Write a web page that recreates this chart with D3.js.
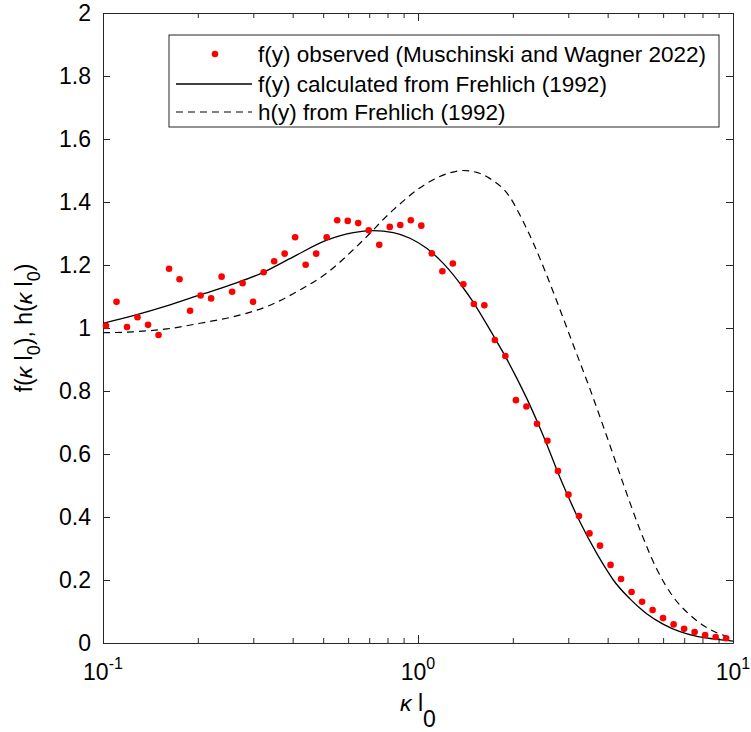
<!DOCTYPE html>
<html>
<head>
<meta charset="utf-8">
<script src="https://cdn.jsdelivr.net/npm/d3@7"></script>
<style>
  body { margin: 0; background: #fff; }
  svg { display: block; }
  text { font-family: "Liberation Sans", Arial, Helvetica, sans-serif; fill: #000; }
</style>
</head>
<body>
<svg id="chart" width="751" height="732"></svg>
<script>
// Observed normalized spectrum f(y) (Muschinski and Wagner 2022)
const obsKappa = [0.1022, 0.1104, 0.1192, 0.1287, 0.1390, 0.1501, 0.1621, 0.1750, 0.1890, 0.2041,
  0.2204, 0.2380, 0.2570, 0.2775, 0.2996, 0.3236, 0.3494, 0.3773, 0.4074, 0.4399,
  0.4751, 0.5130, 0.5540, 0.5983, 0.6460, 0.6976, 0.7533, 0.8135, 0.8784, 0.9488,
  1.0245, 1.106, 1.195, 1.290, 1.393, 1.504, 1.624, 1.754, 1.894, 2.046,
  2.209, 2.386, 2.576, 2.782, 3.004, 3.244, 3.503, 3.783, 4.086, 4.412,
  4.764, 5.145, 5.556, 5.998, 6.478, 6.995, 7.554, 8.157, 8.808, 9.511];
const obsF = [1.007, 1.083, 1.003, 1.034, 1.010, 0.978, 1.188, 1.155, 1.055, 1.103,
  1.094, 1.163, 1.115, 1.142, 1.083, 1.177, 1.212, 1.236, 1.288, 1.201,
  1.236, 1.288, 1.342, 1.340, 1.333, 1.310, 1.264, 1.321, 1.327, 1.342,
  1.325, 1.237, 1.180, 1.205, 1.139, 1.076, 1.072, 0.962, 0.911, 0.771,
  0.751, 0.696, 0.642, 0.546, 0.471, 0.403, 0.348, 0.309, 0.248, 0.203,
  0.162, 0.131, 0.105, 0.079, 0.059, 0.045, 0.035, 0.025, 0.019, 0.015];

// f(y) calculated from Frehlich (1992)
const fKappa = [0.100, 0.1248, 0.1593, 0.2032, 0.2593, 0.3150, 0.4018, 0.5131, 0.6231, 0.7212,
  0.8347, 0.9432, 1.0656, 1.203, 1.393, 1.481, 1.632, 1.765, 1.903, 2.058,
  2.218, 2.409, 2.606, 2.810, 3.112, 3.268, 3.701, 3.972, 4.169, 4.710,
  5.069, 5.333, 5.995, 6.787, 7.686, 8.660, 10.0];
const fCalc = [1.015, 1.039, 1.070, 1.105, 1.140, 1.172, 1.226, 1.279, 1.303, 1.309,
  1.303, 1.285, 1.253, 1.205, 1.127, 1.089, 1.021, 0.963, 0.906, 0.841,
  0.775, 0.695, 0.613, 0.530, 0.429, 0.384, 0.283, 0.232, 0.200, 0.140,
  0.110, 0.092, 0.060, 0.036, 0.021, 0.013, 0.006];

// h(y) from Frehlich (1992)
const hKappa = [0.100, 0.1248, 0.1593, 0.2032, 0.2593, 0.3309, 0.4220, 0.5131, 0.6545, 0.8347,
  1.0656, 1.264, 1.393, 1.536, 1.689, 1.953, 2.123, 2.323, 2.531, 2.756,
  3.112, 3.516, 3.972, 4.485, 5.069, 5.726, 6.464, 7.302, 8.253, 10.0];
const hCalc = [0.985, 0.988, 0.997, 1.015, 1.036, 1.068, 1.121, 1.174, 1.269, 1.375,
  1.459, 1.493, 1.500, 1.494, 1.475, 1.417, 1.352, 1.270, 1.181, 1.086,
  0.946, 0.806, 0.657, 0.505, 0.359, 0.235, 0.146, 0.089, 0.049, 0.015];

const xTickExponents = [-1, 0, 1];
const yTickValues = [0, 0.2, 0.4, 0.6, 0.8, 1, 1.2, 1.4, 1.6, 1.8, 2];
const legendLabels = [
  "f(y) observed (Muschinski and Wagner 2022)",
  "f(y) calculated from Frehlich (1992)",
  "h(y) from Frehlich (1992)"
];

const axisColor = "#262626";
const box = { left: 103, right: 733, top: 13, bottom: 643 };

const svg = d3.select("#chart");
const x = d3.scaleLog().domain([0.1, 10]).range([box.left, box.right]);
const y = d3.scaleLinear().domain([0, 2]).range([box.bottom, box.top]);

// minor log ticks (2..9 in each decade)
const minorTicks = [];
[0.1, 1].forEach(d => { for (let i = 2; i <= 9; i++) minorTicks.push(d * i); });
const majorTicks = xTickExponents.map(e => Math.pow(10, e));

function styleAxis(g) {
  g.select(".domain").attr("stroke", axisColor).attr("stroke-width", 1);
  g.selectAll(".tick line").attr("stroke", axisColor).attr("stroke-width", 1);
  g.selectAll(".tick text").remove();
}

// inward ticks on all four sides
const axes = svg.append("g");
axes.append("g").attr("transform", `translate(0,${box.bottom})`)
  .call(d3.axisBottom(x).tickValues(majorTicks).tickSize(-8).tickSizeOuter(0)).call(styleAxis);
axes.append("g").attr("transform", `translate(0,${box.bottom})`)
  .call(d3.axisBottom(x).tickValues(minorTicks).tickSize(-5).tickSizeOuter(0)).call(styleAxis);
axes.append("g").attr("transform", `translate(0,${box.top})`)
  .call(d3.axisTop(x).tickValues(majorTicks).tickSize(-8).tickSizeOuter(0)).call(styleAxis);
axes.append("g").attr("transform", `translate(0,${box.top})`)
  .call(d3.axisTop(x).tickValues(minorTicks).tickSize(-5).tickSizeOuter(0)).call(styleAxis);
axes.append("g").attr("transform", `translate(${box.left},0)`)
  .call(d3.axisLeft(y).tickValues(yTickValues).tickSize(-7).tickSizeOuter(0)).call(styleAxis);
axes.append("g").attr("transform", `translate(${box.right},0)`)
  .call(d3.axisRight(y).tickValues(yTickValues).tickSize(-7).tickSizeOuter(0)).call(styleAxis);

// y tick labels
svg.append("g").selectAll("text").data(yTickValues).join("text")
  .attr("x", box.left - 12)
  .attr("y", d => y(d))
  .attr("dy", "0.36em")
  .attr("text-anchor", "end")
  .style("font-size", "23px")
  .text(d => String(+d.toFixed(1)));

// x tick labels as 10^n
const xl = svg.append("g").selectAll("text").data(xTickExponents).join("text")
  .attr("x", d => x(Math.pow(10, d)))
  .attr("y", box.bottom + 37)
  .attr("text-anchor", "middle")
  .style("font-size", "23px");
xl.append("tspan").text("10");
xl.append("tspan").attr("dy", -11).style("font-size", "16px").text(d => String(d));

// curves
const line = d3.line().x(d => x(d[0])).y(d => y(d[1])).curve(d3.curveMonotoneX);
const plot = svg.append("g");
plot.append("path")
  .datum(hKappa.map((k, i) => [k, hCalc[i]]))
  .attr("d", line).attr("fill", "none").attr("stroke", "#000")
  .attr("stroke-width", 1.2).attr("stroke-dasharray", "7,5");
plot.append("path")
  .datum(fKappa.map((k, i) => [k, fCalc[i]]))
  .attr("d", line).attr("fill", "none").attr("stroke", "#000")
  .attr("stroke-width", 1.3);
plot.append("g").selectAll("circle")
  .data(obsKappa.map((k, i) => [k, obsF[i]]))
  .join("circle")
  .attr("cx", d => x(d[0])).attr("cy", d => y(d[1]))
  .attr("r", 3.3).attr("fill", "#ff0000");

// axis labels
const ylab = svg.append("text")
  .attr("transform", `translate(32,${(box.top + box.bottom) / 2}) rotate(-90)`)
  .attr("text-anchor", "middle")
  .style("font-size", "23px");
ylab.append("tspan").text("f(");
ylab.append("tspan").style("font-style", "italic").text("κ");
ylab.append("tspan").text(" l");
ylab.append("tspan").attr("dy", 8).style("font-size", "18px").text("0");
ylab.append("tspan").attr("dy", -8).text("), h(");
ylab.append("tspan").style("font-style", "italic").text("κ");
ylab.append("tspan").text(" l");
ylab.append("tspan").attr("dy", 8).style("font-size", "18px").text("0");
ylab.append("tspan").attr("dy", -8).text(")");

const xlab = svg.append("text")
  .attr("x", (box.left + box.right) / 2)
  .attr("y", 711)
  .attr("text-anchor", "middle")
  .style("font-size", "23px");
xlab.append("tspan").style("font-style", "italic").text("κ");
xlab.append("tspan").text(" l");
xlab.append("tspan").attr("dy", 16).text("0");

// legend
const lg = svg.append("g");
lg.append("rect").attr("x", 169).attr("y", 35).attr("width", 550).attr("height", 92)
  .attr("fill", "#fff").attr("stroke", axisColor).attr("stroke-width", 1);
const rowY = [54, 84, 112];
legendLabels.forEach((t, i) => {
  lg.append("text").attr("x", 258).attr("y", rowY[i]).attr("dy", "0.36em")
    .style("font-size", "22.5px").text(t);
});
lg.append("circle").attr("cx", 215).attr("cy", rowY[0]).attr("r", 3.3).attr("fill", "#ff0000");
lg.append("line").attr("x1", 176).attr("x2", 252).attr("y1", rowY[1]).attr("y2", rowY[1])
  .attr("stroke", "#000").attr("stroke-width", 1.3);
lg.append("line").attr("x1", 176).attr("x2", 252).attr("y1", rowY[2]).attr("y2", rowY[2])
  .attr("stroke", "#000").attr("stroke-width", 1.2).attr("stroke-dasharray", "7,5");
</script>
</body>
</html>
